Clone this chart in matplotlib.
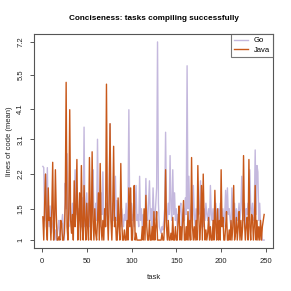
import numpy as np
import matplotlib
matplotlib.use("Agg")
import matplotlib.pyplot as plt
from matplotlib.ticker import FixedLocator, NullLocator

plt.rcParams['font.family'] = ['Liberation Sans', 'DejaVu Sans']

# mean lines of code per task (tasks 1..248)
go_loc = [
    2.38, 2.35, 1.3, 2.2, 1.2, 2.35, 1.4, 1.2, 1.55, 1.1,
    1.3, 1.2, 1.1, 1.0, 1.15, 1.0, 1.1, 1.2, 1.3, 1.0,
    1.1, 1.25, 1.4, 1.15, 1.0, 2.0, 1.5, 2.7, 1.3, 1.2,
    1.8, 1.4, 1.2, 1.6, 1.3, 1.5, 2.3, 1.4, 1.9, 1.2,
    1.5, 1.3, 1.6, 1.2, 1.7, 1.3, 3.47, 1.2, 1.4, 1.8,
    1.3, 1.6, 1.2, 1.5, 1.3, 1.8, 2.3, 1.4, 1.2, 1.6,
    1.3, 3.1, 1.4, 1.5, 1.2, 1.8, 1.4, 2.25, 1.3, 1.5,
    1.2, 1.6, 1.4, 1.3, 1.9, 3.58, 1.4, 1.2, 1.6, 1.3,
    1.5, 2.15, 1.3, 1.65, 1.2, 1.4, 1.3, 1.2, 1.5, 1.3,
    1.2, 1.4, 1.3, 1.6, 1.2, 1.5, 4.06, 1.3, 1.2, 1.6,
    1.3, 1.4, 1.2, 1.5, 1.95, 1.3, 1.4, 1.2, 2.15, 1.3,
    1.5, 1.2, 1.4, 1.3, 1.2, 2.1, 1.4, 1.3, 1.6, 2.05,
    1.3, 1.5, 1.2, 1.9, 1.4, 1.3, 1.6, 1.9, 7.2, 1.6,
    1.2, 1.15, 1.1, 1.2, 1.15, 1.3, 1.5, 3.31, 1.4, 1.3,
    1.6, 1.4, 2.65, 1.5, 1.3, 2.3, 1.4, 1.8, 1.3, 1.5,
    1.2, 1.4, 1.3, 1.5, 1.6, 1.2, 1.4, 1.5, 1.3, 1.7,
    1.4, 5.92, 1.5, 2.15, 1.3, 1.4, 1.6, 1.3, 1.95, 1.4,
    1.2, 1.5, 1.3, 1.6, 1.4, 1.5, 2.05, 1.3, 1.4, 1.2,
    1.5, 1.3, 1.6, 1.4, 1.3, 1.5, 1.2, 1.95, 1.4, 1.3,
    1.5, 1.2, 1.4, 1.6, 1.3, 1.2, 1.5, 1.3, 1.6, 1.4,
    1.3, 1.5, 1.2, 1.4, 1.85, 1.3, 1.9, 1.4, 1.5, 1.3,
    1.2, 1.9, 1.4, 1.3, 1.6, 1.2, 1.5, 1.3, 1.4, 1.6,
    1.3, 1.5, 2.15, 1.4, 1.3, 1.6, 1.2, 1.5, 1.4, 1.6,
    1.3, 2.3, 1.5, 1.4, 1.6, 1.3, 1.5, 2.8, 1.4, 2.4,
    2.25, 1.3, 1.6, 1.2, 1.1, 1.0, 1.0, 1.0,
]

java_loc = [
    1.36, 1.0, 1.6, 2.2, 1.2, 1.0, 1.9, 1.3, 1.35, 1.0,
    1.5, 2.48, 1.0, 1.2, 2.3, 1.4, 1.0, 1.0, 1.05, 1.0,
    1.3, 1.25, 1.0, 1.0, 1.1, 1.6, 5.15, 1.2, 1.0, 1.5,
    4.06, 1.3, 1.1, 1.4, 1.0, 2.05, 1.2, 1.5, 2.55, 1.0,
    1.3, 1.8, 1.0, 2.4, 1.2, 1.0, 1.95, 1.3, 1.0, 1.6,
    1.2, 1.0, 2.6, 1.4, 1.0, 2.75, 1.3, 1.0, 1.5, 1.1,
    1.0, 1.3, 1.8, 1.0, 2.45, 1.2, 1.0, 1.3, 1.0, 1.5,
    1.2, 5.07, 1.4, 1.0, 1.6, 3.58, 1.3, 1.0, 1.5, 2.9,
    1.2, 1.35, 1.0, 1.0, 1.7, 1.2, 1.0, 2.45, 1.3, 1.0,
    1.0, 1.15, 1.0, 1.0, 1.3, 1.0, 1.9, 1.2, 1.9, 1.0,
    1.0, 1.4, 1.95, 1.0, 1.1, 1.0, 1.0, 1.0, 1.0, 1.0,
    1.0, 1.2, 1.0, 1.5, 1.0, 1.75, 1.2, 1.0, 1.0, 1.3,
    1.0, 1.0, 1.2, 1.0, 1.45, 1.0, 1.2, 1.45, 1.0, 1.0,
    1.0, 1.0, 1.0, 1.1, 1.0, 1.0, 1.3, 2.3, 1.2, 1.0,
    1.3, 1.0, 1.0, 1.1, 1.0, 1.35, 1.0, 1.0, 1.2, 1.0,
    1.0, 1.3, 1.55, 1.0, 1.2, 1.0, 1.3, 1.65, 1.0, 1.0,
    1.2, 1.0, 1.45, 1.0, 1.3, 1.0, 2.6, 1.2, 1.0, 1.2,
    1.0, 1.3, 1.0, 2.4, 1.4, 1.0, 1.2, 1.95, 1.0, 2.2,
    1.3, 1.0, 1.15, 1.0, 1.1, 1.35, 1.0, 1.2, 1.0, 1.0,
    1.3, 1.0, 1.85, 1.2, 1.0, 1.5, 1.0, 1.3, 1.0, 2.3,
    1.2, 1.35, 1.0, 1.0, 1.2, 1.45, 1.0, 1.0, 1.15, 1.0,
    1.3, 1.0, 1.2, 1.95, 1.0, 1.1, 1.35, 1.0, 1.2, 1.45,
    1.0, 1.3, 1.0, 1.2, 2.65, 1.3, 1.0, 1.2, 1.35, 1.0,
    2.55, 1.2, 1.0, 1.4, 1.35, 1.0, 1.2, 1.95, 1.0, 1.3,
    1.0, 1.2, 1.0, 1.3, 1.0, 1.2, 1.3, 1.4,
]

y_ticks = [1, 1.5, 2.2, 3.1, 4.1, 5.5, 7.2]
x_ticks = [0, 50, 100, 150, 200, 250]

task = np.arange(1, len(go_loc) + 1)

fig = plt.figure(figsize=(2.91, 2.91), dpi=100)
ax = fig.add_axes([34/291, 1 - 248/291, 239/291, 214/291])

ax.set_yscale('function', functions=(np.log1p, np.expm1))
ax.plot(task, go_loc, color='#c4b8dd', lw=1.0, label='Go')
ax.plot(task, java_loc, color='#c8581a', lw=1.0, label='Java')
ax.margins(x=0.04, y=0.04)

ax.yaxis.set_major_locator(FixedLocator(y_ticks))
ax.yaxis.set_minor_locator(NullLocator())
ax.set_yticklabels([str(v) for v in y_ticks], rotation=90, va='center')
ax.set_xticks(x_ticks)
ax.set_xticklabels([str(v) for v in x_ticks])

for s in ax.spines.values():
    s.set_color('#555555')
    s.set_linewidth(0.8)
ax.tick_params(direction='out', length=3, width=0.7, color='#555555',
               labelsize=5.5, labelcolor='#222222', pad=4)

ax.set_xlabel('task', fontsize=5.5, color='#222222', labelpad=7)
ax.set_ylabel('lines of code (mean)', fontsize=5.5, color='#222222', labelpad=3)
ax.set_title('Conciseness: tasks compiling successfully', fontsize=5.9,
             fontweight='bold', pad=10)

leg = ax.legend(loc='upper right', fontsize=5.5, frameon=True, fancybox=False,
                borderaxespad=0, handlelength=1.8, labelspacing=0.3)
leg.get_frame().set_edgecolor('#555555')
leg.get_frame().set_linewidth(0.8)

fig.savefig('out.png', dpi=100)
